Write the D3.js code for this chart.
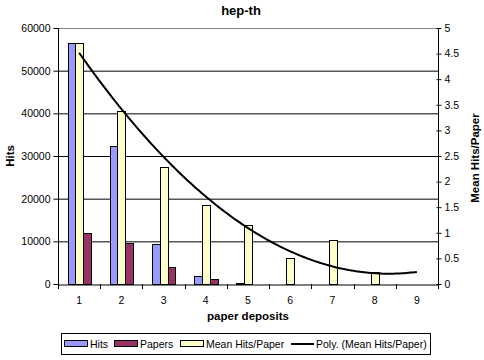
<!DOCTYPE html>
<html><head><meta charset="utf-8">
<script src="https://cdn.jsdelivr.net/npm/d3@7"></script>
<style>body{margin:0;background:#fff}svg{display:block}text{font-family:"Liberation Sans",Arial,sans-serif}</style>
</head><body>
<script>
const categories = [1,2,3,4,5,6,7,8,9];
const hits = [56500, 32300, 9300, 1800, 150, 0, 0, 0, 0];
const papers = [11900, 9500, 4100, 1100, 100, 0, 0, 0, 0];
const meanHits = [4.70, 3.38, 2.28, 1.54, 1.15, 0.50, 0.86, 0.24, 0];
const leftTicks = [0,10000,20000,30000,40000,50000,60000];
const rightTicks = [0,0.5,1,1.5,2,2.5,3,3.5,4,4.5,5];

const W=484,H=360, L=58, R=438, T=28, B=284;
const svg=d3.select("body").append("svg").attr("width",W).attr("height",H);

const x=d3.scaleBand().domain(categories).range([L,R]).padding(0);
const xs=d3.scaleBand().domain(["Hits","Mean","Papers"]).range([0,x.bandwidth()]).paddingInner(0).paddingOuter(1.25);
const yL=d3.scaleLinear().domain([0,60000]).range([B,T]);
const yR=d3.scaleLinear().domain([0,5]).range([B,T]);

// gridlines
svg.append("g").selectAll("line").data(leftTicks.filter(d=>d>0&&d<60000)).join("line")
  .attr("x1",L).attr("x2",R).attr("y1",d=>yL(d)+0.5).attr("y2",d=>yL(d)+0.5).attr("stroke","#000");
svg.append("line").attr("x1",L).attr("x2",R).attr("y1",T+0.5).attr("y2",T+0.5).attr("stroke","#808080");

// bars
const series=[{k:"Hits",v:hits,s:yL,c:"#9999FF"},{k:"Papers",v:papers,s:yL,c:"#993366"},{k:"Mean",v:meanHits,s:yR,c:"#FFFFCC"}];
series.forEach(se=>{
  svg.append("g").selectAll("rect").data(categories.map((c,i)=>({c,v:se.v[i]})).filter(d=>d.v>0)).join("rect")
    .attr("x",d=>Math.round(x(d.c)+xs(se.k))+0.5).attr("width",Math.round(xs.bandwidth()))
    .attr("y",d=>Math.round(se.s(d.v))+0.5).attr("height",d=>Math.max(0,B-Math.round(se.s(d.v))))
    .attr("fill",se.c).attr("stroke","#000").attr("stroke-width",1);
});

// quadratic least-squares trendline of meanHits
(function(){
  const n=categories.length; let S=[0,0,0,0,0], Sy=[0,0,0];
  categories.forEach((c,i)=>{const y=meanHits[i]; for(let p=0;p<5;p++)S[p]+=Math.pow(c,p); for(let p=0;p<3;p++)Sy[p]+=Math.pow(c,p)*y;});
  const M=[[S[0],S[1],S[2],Sy[0]],[S[1],S[2],S[3],Sy[1]],[S[2],S[3],S[4],Sy[2]]];
  for(let i=0;i<3;i++){for(let j=i+1;j<3;j++){const f=M[j][i]/M[i][i];for(let k=i;k<4;k++)M[j][k]-=f*M[i][k];}}
  const co=[0,0,0];
  for(let i=2;i>=0;i--){let s=M[i][3];for(let k=i+1;k<3;k++)s-=M[i][k]*co[k];co[i]=s/M[i][i];}
  const f=t=>co[0]+co[1]*t+co[2]*t*t;
  const first=categories[0], last=categories[n-1];
  const pts=d3.range(0,161).map(i=>first+(last-first)*i/160);
  const xc=t=>x(first)+x.bandwidth()/2+(t-first)*x.step();
  svg.append("path").attr("d",d3.line().x(xc).y(t=>yR(f(t)))(pts))
    .attr("fill","none").attr("stroke","#000").attr("stroke-width",2);
})();

// axes
const fmt=d3.format("d");
const gl=svg.append("g").attr("transform",`translate(${L+0.5},0)`)
  .call(d3.axisLeft(yL).tickValues(leftTicks).tickFormat(d=>d).tickSize(5).tickPadding(3));
const gr=svg.append("g").attr("transform",`translate(${R+0.5},0)`)
  .call(d3.axisRight(yR).tickValues(rightTicks).tickFormat(d=>d).tickSize(3).tickPadding(3));
gr.selectAll(".tick line").attr("x1",-2);
const gb=svg.append("g").attr("transform",`translate(0,${B+0.5})`)
  .call(d3.axisBottom(x).tickSize(0).tickPadding(12));
gb.selectAll(".tick").each(function(){});
svg.append("g").selectAll("line").data(d3.range(categories.length+1)).join("line")
  .attr("x1",i=>Math.round(L+i*x.step())+0.5).attr("x2",i=>Math.round(L+i*x.step())+0.5)
  .attr("y1",B).attr("y2",B+5).attr("stroke","#000");
[gl,gr,gb].forEach(g=>{g.select(".domain").attr("stroke","#000");g.selectAll(".tick line").attr("stroke","#000");
  g.selectAll("text").attr("font-family","Liberation Sans, Arial, sans-serif").attr("font-size",10.5).attr("fill","#000");});
gl.select(".domain").attr("d",`M0,${T}V${B}`);
gr.select(".domain").attr("d",`M0,${T}V${B}`);

// titles
svg.append("text").attr("x",241).attr("y",15).attr("text-anchor","middle").attr("font-weight","bold").attr("font-size",13).text("hep-th");
svg.append("text").attr("x",248).attr("y",320).attr("text-anchor","middle").attr("font-weight","bold").attr("font-size",11.5).text("paper deposits");
svg.append("text").attr("transform","translate(14,156) rotate(-90)").attr("text-anchor","middle").attr("font-weight","bold").attr("font-size",11.5).text("Hits");
svg.append("text").attr("transform","translate(479,158) rotate(-90)").attr("text-anchor","middle").attr("font-weight","bold").attr("font-size",11.5).text("Mean Hits/Paper");

// legend
const lg=svg.append("g");
lg.append("rect").attr("x",61.5).attr("y",333.5).attr("width",369).attr("height",21).attr("fill","#fff").attr("stroke","#000");
const items=[{t:"Hits",c:"#9999FF",x:64},{t:"Papers",c:"#993366",x:114},{t:"Mean Hits/Paper",c:"#FFFFCC",x:180}];
items.forEach(it=>{
  lg.append("rect").attr("x",it.x+0.5).attr("y",340.5).attr("width",23).attr("height",6).attr("fill",it.c).attr("stroke","#000");
  lg.append("text").attr("x",it.x+26).attr("y",348).attr("font-size",10.5).text(it.t);
});
lg.append("line").attr("x1",291).attr("x2",314).attr("y1",344).attr("y2",344).attr("stroke","#000").attr("stroke-width",2);
lg.append("text").attr("x",316).attr("y",348).attr("font-size",10.5).text("Poly. (Mean Hits/Paper)");
</script>
</body></html>
